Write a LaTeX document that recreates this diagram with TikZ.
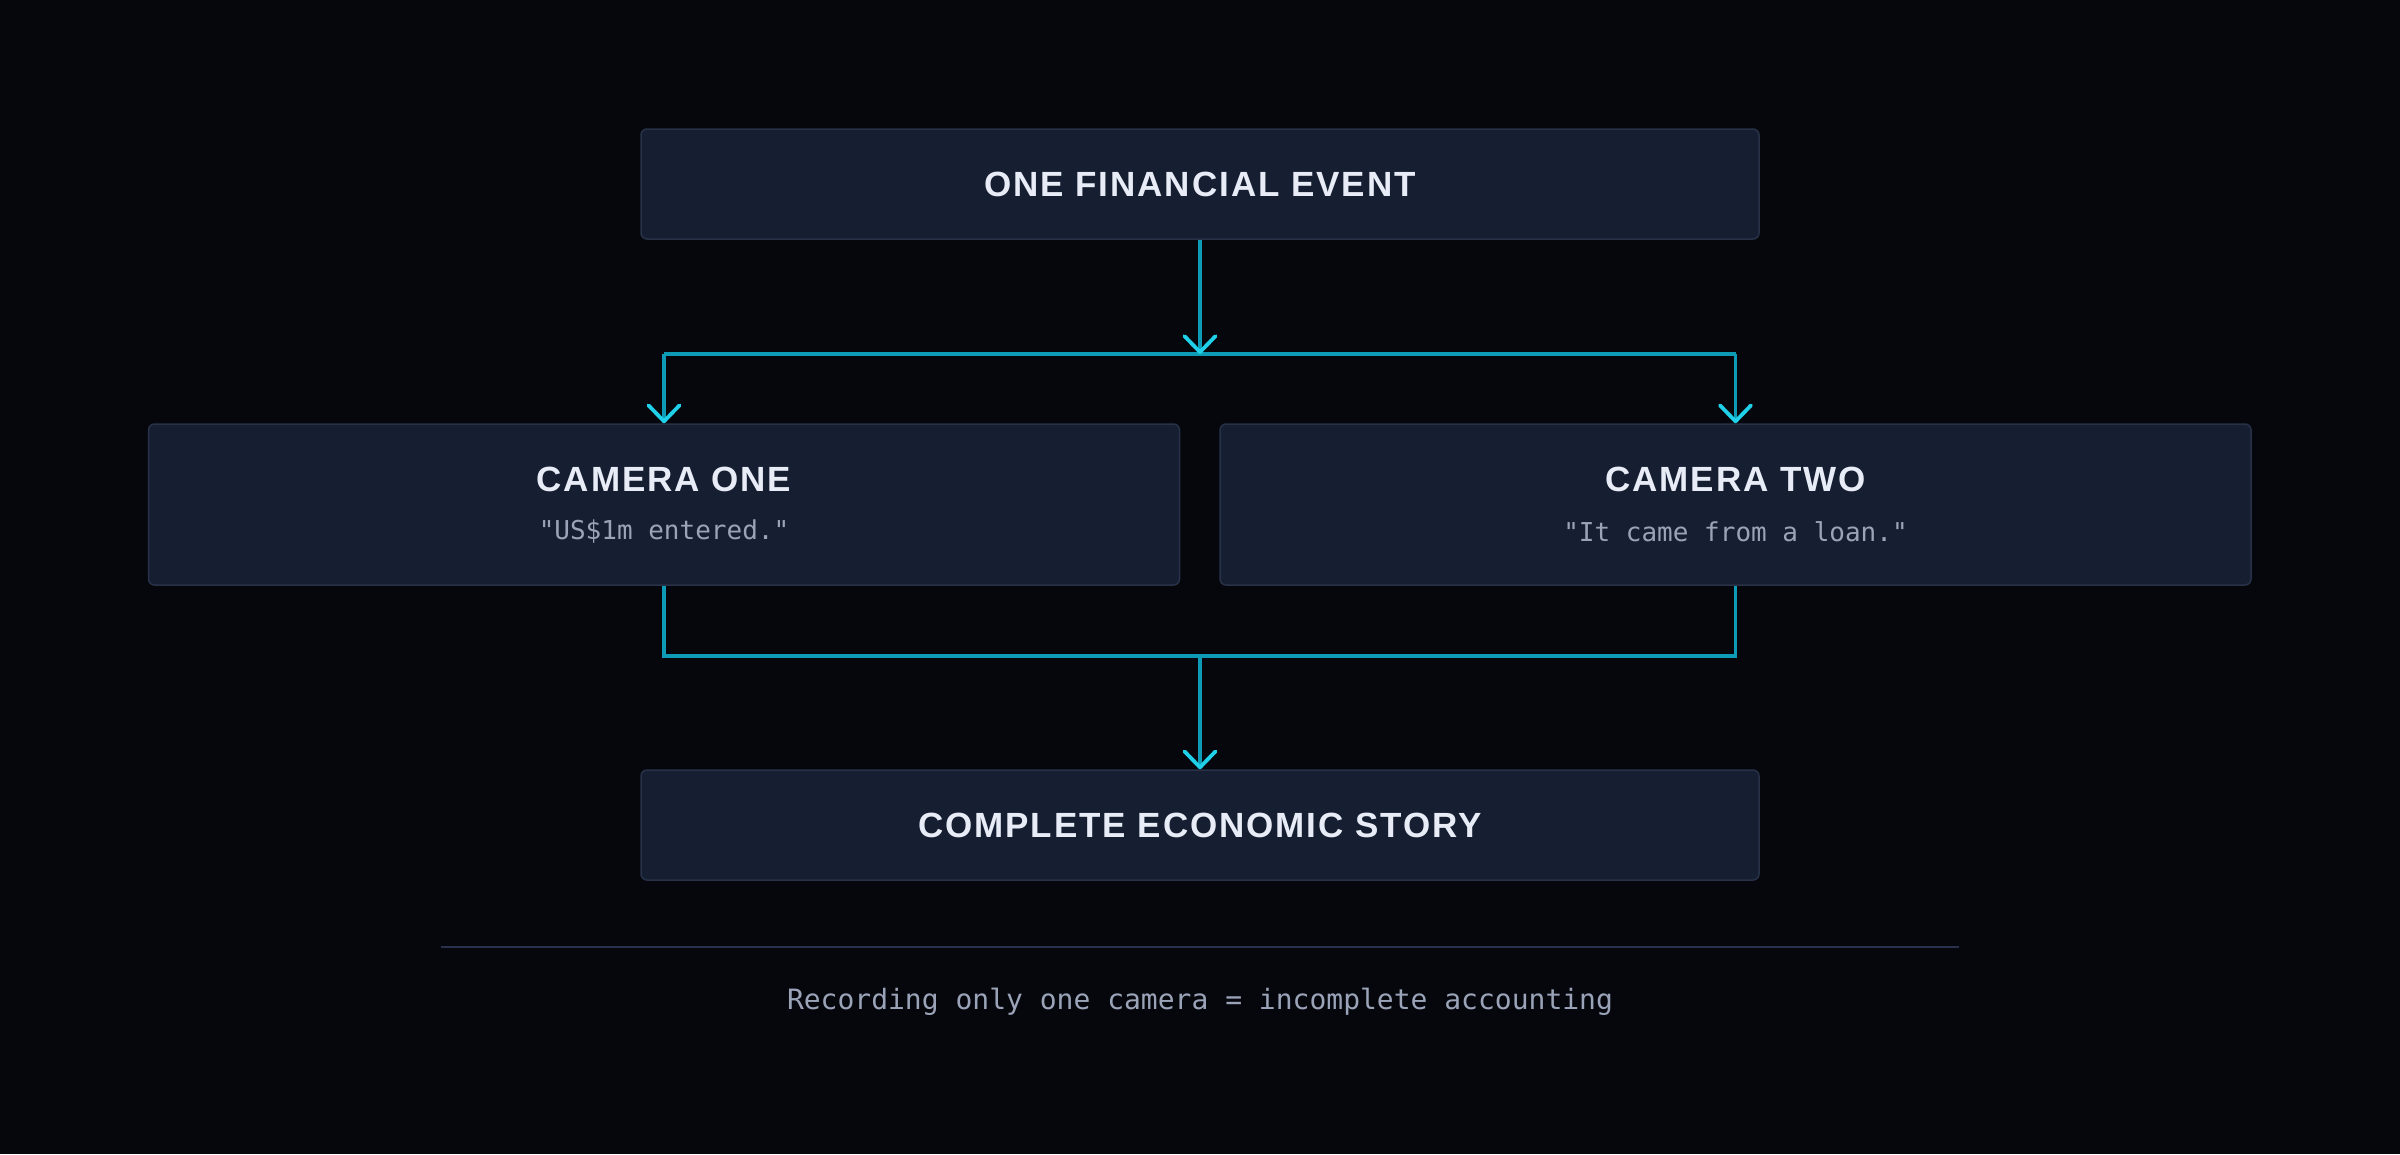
\documentclass[tikz,border=0pt]{standalone}
\usepackage{fontspec}
\setmainfont{Liberation Sans}
\newfontfamily\titlefont[LetterSpace=5.5]{Liberation Sans Bold}
\newfontfamily\monofont{DejaVu Sans Mono}
\usetikzlibrary{arrows.meta}
\definecolor{bgc}{HTML}{05070C}
\definecolor{boxfill}{HTML}{161F31}
\definecolor{boxline}{HTML}{273148}
\definecolor{titlec}{HTML}{E8ECF7}
\definecolor{subc}{HTML}{9AA3B8}
\definecolor{linec}{HTML}{0E9BB5}
\definecolor{tipc}{HTML}{1FD0E8}
\definecolor{sepc}{HTML}{2B2F4E}
\tikzset{
  panel/.style={draw=boxline, line width=1.5pt, fill=boxfill, rounded corners=6pt, inner sep=0pt},
  ttl/.style={font=\titlefont\fontsize{35}{40}\selectfont, text=titlec, inner sep=0pt},
  sub/.style={font=\monofont\fontsize{26}{30}\selectfont, text=subc, inner sep=0pt},
  conn/.style={draw=linec, line width=3.6pt},
  tipped/.style={conn, -{Straight Barb[length=16pt,width=31pt,line width=3.8pt,round,color=tipc]}},
}
\begin{document}
\begin{tikzpicture}[x=1pt,y=-1pt]
\fill[bgc] (0,0) rectangle (2400,1154);
\useasboundingbox (0,0) rectangle (2400,1154);

\node[panel, minimum width=1118pt, minimum height=110pt] (top) at (1200,184) {};
\node[ttl] (toptxt) at (1200,184) {ONE FINANCIAL EVENT};

\node[panel, minimum width=1031pt, minimum height=161pt] (cam1) at (664,504.5) {};
\node[ttl] (cam1t) at (664,479) {CAMERA ONE};
\node[sub] (cam1s) at (664,532) {"US\$1m entered."};

\node[panel, minimum width=1031pt, minimum height=161pt] (cam2) at (1735.5,504.5) {};
\node[ttl] (cam2t) at (1735.5,479) {CAMERA TWO};
\node[sub] (cam2s) at (1735.5,532) {"It came from a loan."};

\node[panel, minimum width=1118pt, minimum height=110pt] (bot) at (1200,825) {};
\node[ttl] (bottxt) at (1200,825) {COMPLETE ECONOMIC STORY};

\coordinate (j1) at (1200,354);
\coordinate (jl) at (664,354);
\coordinate (jr) at (1735.5,354);
\coordinate (k1) at (1200,656);
\coordinate (kl) at (664,656);
\coordinate (kr) at (1735.5,656);

\draw[conn] (jl) -- (jr);
\draw[tipped] (top.south) -- (j1);
\draw[tipped] (jl) -- (cam1.north);
\draw[tipped] (jr) -- (cam2.north);

\draw[conn] (cam1.south) -- (kl) -- (kr) -- (cam2.south);
\draw[tipped] (k1) -- (bot.north);

\coordinate (sl) at (441,946.5);
\coordinate (sr) at (1959,946.5);
\draw[sepc, line width=2pt] (sl) -- (sr);

\node[sub, font=\monofont\fontsize{28}{32}\selectfont] (foot) at (1200,1002) {Recording only one camera = incomplete accounting};
\end{tikzpicture}
\end{document}
